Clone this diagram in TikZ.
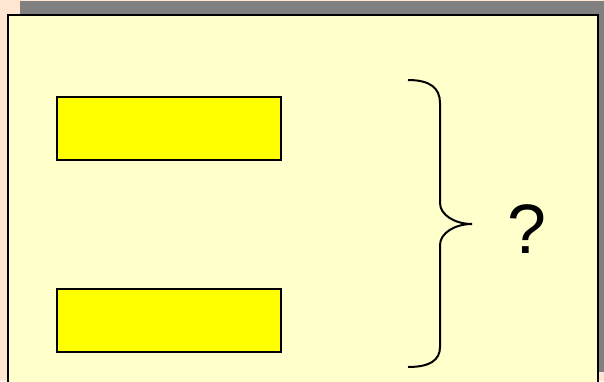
\documentclass[tikz,border=0pt]{standalone}
\usepackage{fontspec}
\setmainfont{Liberation Sans}
\definecolor{peach}{HTML}{FFE6D2}
\definecolor{panel}{HTML}{FFFFCC}
\definecolor{shadowgray}{HTML}{808080}
\definecolor{boxyellow}{HTML}{FFFF00}
\begin{document}
\begin{tikzpicture}[x=1pt,y=-1pt,
  yellowbox/.style={draw=black,line width=2pt,fill=boxyellow,minimum width=224pt,minimum height=63pt,inner sep=0pt,anchor=north west}]
\useasboundingbox (0,0) rectangle (604,381);
\fill[peach] (0,0) rectangle (604,381);
\fill[shadowgray] (20,1) rectangle (611,372);
\draw[line width=2pt,fill=panel] (8,15) rectangle (598,390);
\node[yellowbox] (b1) at (55.5,95.5) {};
\node[yellowbox] (b2) at (55.5,288) {};
\draw[line width=2pt] (408,80) .. controls (430,80) and (440,88) .. (440,103) -- (440,203)
  .. controls (440,215) and (455,224) .. (472,224)
  .. controls (455,224) and (440,233) .. (440,245) -- (440,347)
  .. controls (440,360) and (430,367) .. (408,367);
\node[font=\fontsize{70}{82}\selectfont,inner sep=0pt] (q) at (527,229) {?};
\end{tikzpicture}
\end{document}
